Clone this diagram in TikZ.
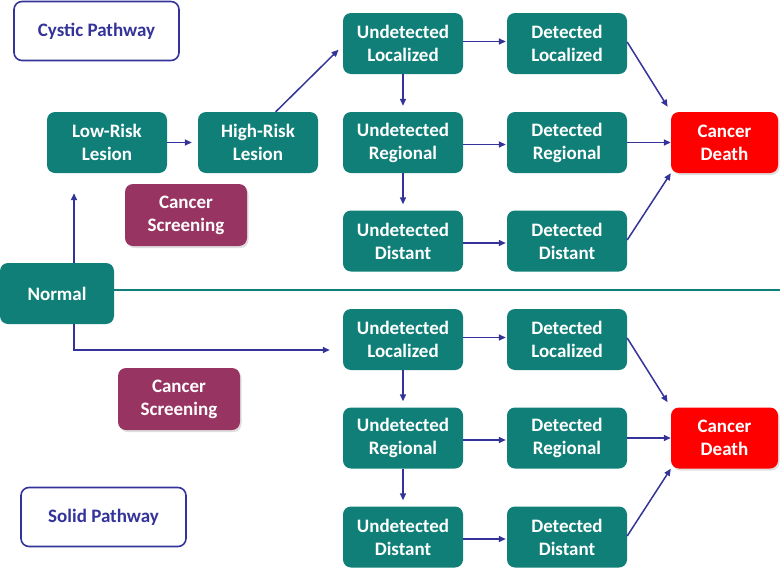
\documentclass[tikz,border=0pt]{standalone}
\usepackage{fontspec}
\setmainfont{Carlito}
\usetikzlibrary{calc,arrows.meta,shadows}
\definecolor{tealbox}{HTML}{0F7F78}
\definecolor{screenc}{HTML}{983462}
\definecolor{navy}{HTML}{333399}
\definecolor{deathc}{HTML}{FF0000}
\tikzset{
  base/.style={rectangle, rounded corners=8pt, align=center, text=white,
    font=\fontsize{19}{23}\selectfont\bfseries, inner sep=0pt},
  tbox/.style={base, fill=tealbox, minimum width=120pt, minimum height=61pt},
  sbox/.style={base, fill=screenc, minimum width=122pt, minimum height=62pt,
    drop shadow={opacity=0.25, shadow xshift=1.5pt, shadow yshift=-2pt}},
  dbox/.style={base, fill=deathc, minimum width=107pt, minimum height=61pt,
    drop shadow={opacity=0.25, shadow xshift=1.5pt, shadow yshift=-2pt}},
  pbox/.style={base, draw=navy, line width=1.6pt, fill=white, text=navy,
    minimum width=165pt, minimum height=59pt},
  arr/.style={draw=navy, line width=1.5pt, -{Triangle[length=7pt,width=6pt]}},
}
\begin{document}
\begin{tikzpicture}[x=1pt,y=-1pt]
\useasboundingbox (0,0) rectangle (780,568);
% left part
\node[pbox] (cystic) at (96.5,31) {Cystic Pathway};
\node[pbox] (solid) at (103.5,517) {Solid Pathway};
\node[tbox] (low) at (107,142.5) {Low-Risk\\Lesion};
\node[tbox] (high) at (258,142.5) {High-Risk\\Lesion};
\node[sbox] (scr1) at (186,215) {Cancer\\Screening};
\node[tbox, minimum width=114pt] (normal) at (57,293.5) {Normal};
\node[sbox] (scr2) at (179,399) {Cancer\\Screening};
% top pathway
\node[tbox] (ul1) at (403,43.5) {Undetected\\Localized};
\node[tbox] (ur1) at (403,142.5) {Undetected\\Regional};
\node[tbox] (ud1) at (403,241) {Undetected\\Distant};
\node[tbox] (dl1) at (567,43.5) {Detected\\Localized};
\node[tbox] (dr1) at (567,142.5) {Detected\\Regional};
\node[tbox] (dd1) at (567,241) {Detected\\Distant};
\node[dbox] (death1) at (724.5,142.5) {Cancer\\Death};
% bottom pathway
\node[tbox] (ul2) at (403,339.5) {Undetected\\Localized};
\node[tbox] (ur2) at (403,438) {Undetected\\Regional};
\node[tbox] (ud2) at (403,537) {Undetected\\Distant};
\node[tbox] (dl2) at (567,339.5) {Detected\\Localized};
\node[tbox] (dr2) at (567,438) {Detected\\Regional};
\node[tbox] (dd2) at (567,537) {Detected\\Distant};
\node[dbox] (death2) at (724.5,438) {Cancer\\Death};
% separator
\coordinate (sepend) at (780,290);
\draw[tealbox, line width=1.5pt] (normal.east |- sepend) -- (sepend);
% connectors
\draw[arr, shorten >=6pt] (low.east) -- (high.west);
\draw[arr, shorten >=6pt] (high.60) -- ($(ul1.west)+(0,2)$);
\draw[arr, shorten >=20pt] ($(normal.north)+(17,0)$) -- ($(low.south)+(-33,0)$);
\draw[arr, shorten >=13pt] ($(normal.south)+(17,0)$) |- ($(ul2.west)+(0,10.5)$);
\foreach \s in {1,2}{
  \draw[arr, shorten >=1pt] ($(ul\s.east)+(0,-2)$) -- ($(dl\s.west)+(0,-2)$);
  \draw[arr, shorten >=1pt] ($(ur\s.east)+(0,2)$) -- ($(dr\s.west)+(0,2)$);
  \draw[arr, shorten >=1pt] ($(ud\s.east)+(0,2)$) -- ($(dd\s.west)+(0,2)$);
  \draw[arr, shorten >=6pt] (ul\s.south) -- (ur\s.north);
  \draw[arr, shorten >=6pt] (ur\s.south) -- (ud\s.north);
  \draw[arr, shorten >=6pt] ($(dl\s.east)+(0,-1.5)$) -- (death\s.north west);
  \draw[arr] (dr\s.east) -- (death\s.west);
  \draw[arr] ($(dd\s.east)+(0,-1)$) -- (death\s.south west);
}
\end{tikzpicture}
\end{document}
